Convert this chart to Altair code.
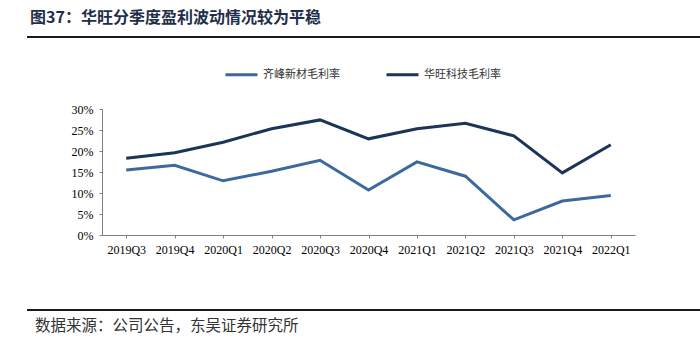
import altair as alt
import pandas as pd

quarters = ["2019Q3", "2019Q4", "2020Q1", "2020Q2", "2020Q3", "2020Q4",
            "2021Q1", "2021Q2", "2021Q3", "2021Q4", "2022Q1"]
qifeng = [15.5, 16.6, 12.9, 15.2, 17.8, 10.7, 17.4, 14.0, 3.6, 8.1, 9.4]
huawang = [18.3, 19.6, 22.1, 25.3, 27.4, 22.9, 25.3, 26.6, 23.6, 14.8, 21.5]
series_names = ["齐峰新材毛利率", "华旺科技毛利率"]
series_colors = ["#3d6a9e", "#1b3558"]

rows = []
for q, a, b in zip(quarters, qifeng, huawang):
    rows.append({"季度": q, "系列": series_names[0], "值": a / 100})
    rows.append({"季度": q, "系列": series_names[1], "值": b / 100})
df = pd.DataFrame(rows)

serif = "Liberation Serif"
cjk = "Noto Sans CJK SC"

lines = alt.Chart(df).mark_line(strokeWidth=3, clip=False).encode(
    x=alt.X("季度:N", sort=quarters, title=None,
            scale=alt.Scale(paddingInner=0, paddingOuter=0),
            axis=alt.Axis(labelAngle=0, labelFont=serif, labelFontSize=12,
                          labelColor="#000", domainColor="#808080",
                          tickColor="#808080", tickSize=3, bandPosition=0,
                          labelPadding=6, grid=False,
                          labelBound=False, labelOverlap=False)),
    y=alt.Y("值:Q", title=None,
            scale=alt.Scale(domain=[0, 0.3], nice=False),
            axis=alt.Axis(format=".0%", values=[0, 0.05, 0.1, 0.15, 0.2, 0.25, 0.3],
                          labelFont=serif, labelFontSize=12, labelColor="#000",
                          domainColor="#808080", tickColor="#808080",
                          tickSize=3, labelPadding=6, grid=False)),
    color=alt.Color("系列:N", sort=series_names,
                    scale=alt.Scale(domain=series_names, range=series_colors),
                    legend=alt.Legend(title=None, orient="none", direction="horizontal",
                                      legendX=122, legendY=-52,
                                      symbolType="stroke", symbolSize=1024,
                                      symbolStrokeWidth=3, labelFont=cjk,
                                      labelFontSize=11, labelColor="#333",
                                      columnPadding=40, labelOffset=4)),
)

deco = pd.DataFrame({"k": [0]})
rule_top = alt.Chart(deco).mark_rule(color="#1a1a1a", strokeWidth=2, clip=False).encode(
    x=alt.value(-75), x2=alt.value(598), y=alt.value(-72))
rule_bot = alt.Chart(deco).mark_rule(color="#1a1a1a", strokeWidth=2, clip=False).encode(
    x=alt.value(-75), x2=alt.value(598), y=alt.value(201))
footer = alt.Chart(deco).mark_text(align="left", baseline="middle", font=cjk,
                                   fontSize=15.5, color="#333", clip=False).encode(
    x=alt.value(-67), y=alt.value(217), text=alt.value("数据来源：公司公告，东吴证券研究所"))
title = alt.Chart(deco).mark_text(align="left", baseline="middle", font=cjk,
                                  fontSize=16, fontWeight="bold", color="#1f2f4a",
                                  clip=False).encode(
    x=alt.value(-72), y=alt.value(-91), text=alt.value("图37：华旺分季度盈利波动情况较为平稳"))

chart = alt.layer(lines, rule_top, rule_bot, footer, title).properties(
    width=533, height=126,
    padding={"left": 102, "top": 109, "right": 65, "bottom": 116},
    autosize=alt.AutoSizeParams(type="none"),
    background="white",
).configure_view(stroke=None)

chart.save("out.html", embed_options={"renderer": "svg", "actions": False})
